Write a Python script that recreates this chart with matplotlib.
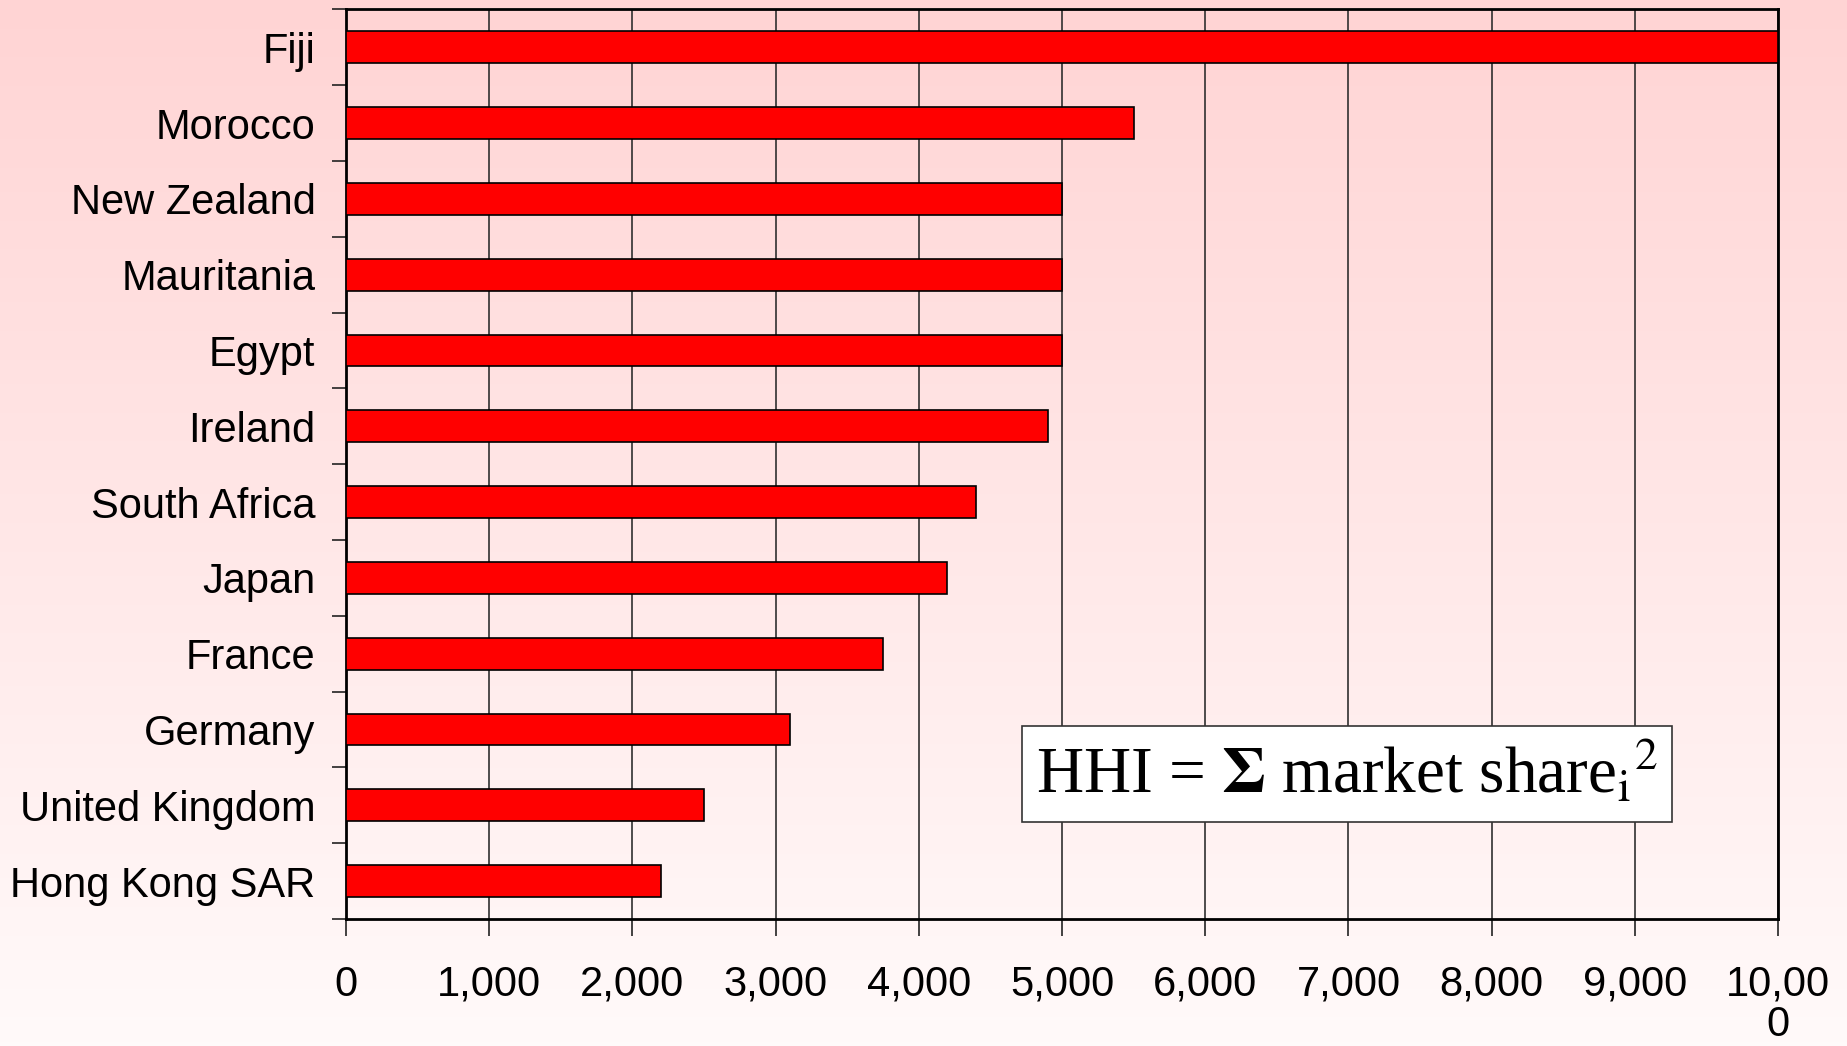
#!/usr/bin/env python3
"""HHI by country, horizontal bar chart."""

import matplotlib

matplotlib.use("Agg")
import matplotlib.pyplot as plt
import numpy as np
from matplotlib.colors import LinearSegmentedColormap
from matplotlib.ticker import FixedLocator

countries = [
    "Fiji", "Morocco", "New Zealand", "Mauritania", "Egypt", "Ireland",
    "South Africa", "Japan", "France", "Germany", "United Kingdom", "Hong Kong SAR",
]
hhi = [10000, 5500, 5000, 5000, 5000, 4900, 4400, 4200, 3750, 3100, 2500, 2200]
x_ticks = [0, 1000, 2000, 3000, 4000, 5000, 6000, 7000, 8000, 9000, 10000]
x_ticklabels = ["0", "1,000", "2,000", "3,000", "4,000", "5,000", "6,000",
                "7,000", "8,000", "9,000", "10,00\n0"]

plt.rcParams["font.family"] = ["Liberation Sans", "DejaVu Sans"]
plt.rcParams["mathtext.fontset"] = "stix"

fig = plt.figure(figsize=(18.47, 10.46), dpi=100)

# background gradient (pink at top fading to near white)
bg = fig.add_axes([0, 0, 1, 1], zorder=-10)
cmap = LinearSegmentedColormap.from_list("bg", ["#fffafa", "#ffd4d4"])
bg.imshow(np.linspace(0, 1, 256).reshape(-1, 1), aspect="auto", cmap=cmap,
          origin="lower", extent=[0, 1, 0, 1])
bg.axis("off")

ax = fig.add_axes([0.1873, 0.1214, 0.7754, 0.8696])
ax.patch.set_alpha(0)

y = np.arange(len(countries))
ax.barh(y, hhi, height=0.42, color="#ff0000", edgecolor="black",
        linewidth=1.2, zorder=3)

ax.set_xlim(0, 10000)
ax.set_ylim(len(countries) - 0.5, -0.5)
ax.set_xticks(x_ticks)
ax.set_xticklabels(x_ticklabels, fontsize=30, linespacing=1.0)
ax.xaxis.grid(True, color="#303030", linewidth=1.2, zorder=1)

ax.set_yticks(y)
ax.set_yticklabels(countries, fontsize=30)
ax.yaxis.set_major_locator(FixedLocator(y))
ax.yaxis.set_minor_locator(FixedLocator(np.arange(len(countries) + 1) - 0.5))
ax.tick_params(axis="y", which="major", length=0, pad=22)
ax.tick_params(axis="y", which="minor", length=10, width=1.2, color="#222222")
ax.tick_params(axis="x", length=12, width=1.2, pad=21, color="#222222")
for side in ["left", "bottom", "top", "right"]:
    ax.spines[side].set_linewidth(2)
    ax.spines[side].set_color("black")

ax.text(0.699, 0.1595,
        r"HHI = $\mathbf{\Sigma}$ market share${}_{\mathrm{i}}{}^{\mathrm{2}}$",
        transform=ax.transAxes, ha="center", va="center", fontsize=47,
        family="Liberation Serif", zorder=5,
        bbox=dict(boxstyle="square,pad=0.22", facecolor="white",
                  edgecolor="#333333", linewidth=1.2))

fig.savefig("out.png", dpi=100)
